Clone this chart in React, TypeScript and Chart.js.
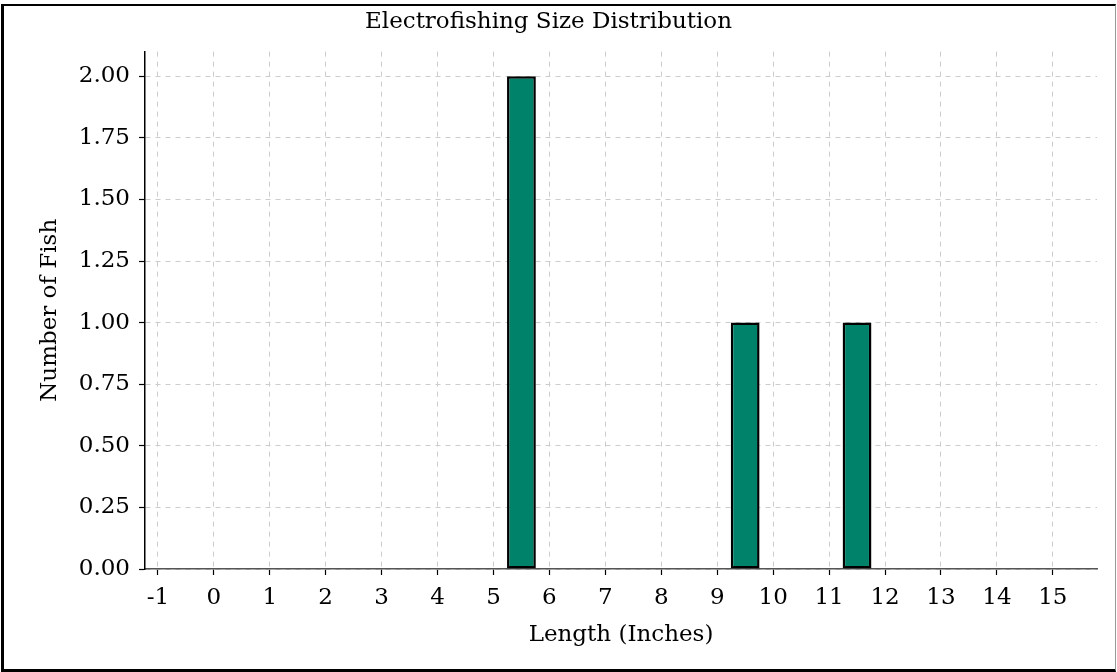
import React, { useEffect, useRef } from "react";
import { Chart, registerables } from "chart.js";

Chart.register(...registerables);

const TITLE = "Electrofishing Size Distribution";
const X_LABEL = "Length (Inches)";
const Y_LABEL = "Number of Fish";

// histogram bins (centre, inches) and counts
const binCenters = [5.5, 9.5, 11.5];
const fishCounts = [2, 1, 1];
const binWidth = 0.5;

const xTicks = [-1, 0, 1, 2, 3, 4, 5, 6, 7, 8, 9, 10, 11, 12, 13, 14, 15];
const yTicks = [0, 0.25, 0.5, 0.75, 1.0, 1.25, 1.5, 1.75, 2.0];
const xRange = [-1.23, 15.79];
const yRange = [0, 2.1];

const FONT = "'DejaVu Serif', serif";
const FS = 23;

export default function App() {
  const ref = useRef<HTMLCanvasElement | null>(null);

  useEffect(() => {
    document.body.style.margin = "0";
    const canvas = ref.current!;
    // Chart.js sizes bars from the smallest gap between data points or ticks
    let minGap = Infinity;
    for (let i = 1; i < binCenters.length; i++) {
      minGap = Math.min(minGap, binCenters[i] - binCenters[i - 1]);
    }
    for (let i = 1; i < xTicks.length; i++) {
      minGap = Math.min(minGap, xTicks[i] - xTicks[i - 1]);
    }
    const chart = new Chart(canvas, {
      type: "bar",
      data: {
        datasets: [
          {
            data: binCenters.map((x, i) => ({ x, y: fishCounts[i] })),
            backgroundColor: "#00816a",
            borderColor: "#000000",
            borderWidth: 2.5,
            borderSkipped: false,
            barPercentage: (binWidth / minGap) * 1.03,
            categoryPercentage: 1,
          },
        ],
      },
      options: {
        responsive: false,
        animation: false,
        devicePixelRatio: 1,
        layout: { padding: { left: 0, right: 20, top: 0, bottom: 0 } },
        plugins: {
          legend: { display: false },
          tooltip: { enabled: false },
          title: {
            display: true,
            text: TITLE,
            color: "#000",
            font: { family: FONT, size: FS, weight: "normal" },
            padding: { top: 8, bottom: 16 },
          },
        },
        scales: {
          x: {
            type: "linear",
            offset: false,
            min: xRange[0],
            max: xRange[1],
            afterBuildTicks: (s: any) => {
              s.ticks = xTicks.map((v) => ({ value: v }));
            },
            afterFit: (s: any) => {
              s.height = 103;
            },
            ticks: {
              color: "#000",
              font: { family: FONT, size: FS },
              padding: 9,
              maxRotation: 0,
              autoSkip: false,
              callback: (v: any) => String(v),
            },
            grid: {
              offset: false,
              color: "#cccccc",
              lineWidth: 1,
              tickColor: "#000",
              tickLength: 6,
              tickWidth: 1.2,
              tickBorderDash: [],
            },
            border: { display: true, color: "#555555", width: 1.5, dash: [5, 5] },
            title: {
              display: true,
              text: X_LABEL,
              color: "#000",
              font: { family: FONT, size: FS },
              padding: { top: 0, bottom: 23 },
            },
          },
          y: {
            type: "linear",
            min: yRange[0],
            max: yRange[1],
            afterBuildTicks: (s: any) => {
              s.ticks = yTicks.map((v) => ({ value: v }));
            },
            afterFit: (s: any) => {
              s.width = 145;
            },
            ticks: {
              color: "#000",
              font: { family: FONT, size: FS },
              padding: 9,
              autoSkip: false,
              callback: (v: any) => Number(v).toFixed(2),
            },
            grid: {
              color: "#cccccc",
              lineWidth: 1,
              tickColor: "#000",
              tickLength: 6,
              tickWidth: 1.2,
              tickBorderDash: [],
            },
            border: { display: true, color: "#000", width: 1.5, dash: [5, 5] },
            title: {
              display: true,
              text: Y_LABEL,
              color: "#000",
              font: { family: FONT, size: FS },
              padding: { top: 36, bottom: 0 },
            },
          },
        },
      },
    });
    return () => chart.destroy();
  }, []);

  return (
    <div style={{ position: "relative", width: 1117, height: 672, background: "#fff" }}>
      <canvas ref={ref} width={1117} height={672} style={{ position: "absolute", left: 0, top: 0 }} />
      <div
        style={{
          position: "absolute",
          left: 1,
          top: 4,
          width: 1115,
          height: 668,
          boxSizing: "border-box",
          borderLeft: "3px solid #000",
          borderTop: "2px solid #000",
          borderBottom: "3px solid #000",
          borderRight: "1px solid #999",
          pointerEvents: "none",
        }}
      />
    </div>
  );
}
